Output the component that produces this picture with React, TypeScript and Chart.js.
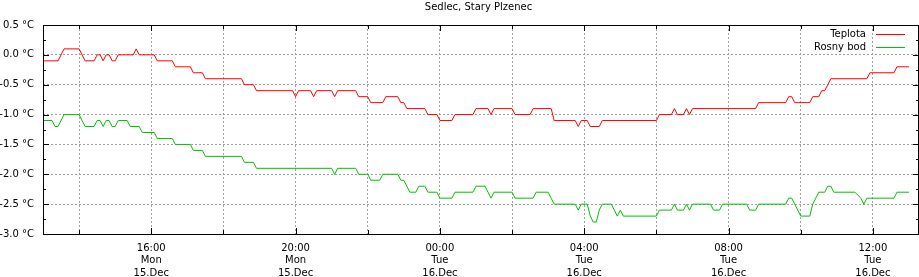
import React, { useEffect, useRef } from "react";
import { Chart, registerables } from "chart.js";

Chart.register(...registerables);

// Time axis: minutes since Mon 15.Dec 13:00
const xMinMinutes = 0;
const xMaxMinutes = 1455;
const gridMinutes = [60, 180, 300, 420, 540, 660, 780, 900, 1020, 1140, 1260, 1380];
const majorTickMinutes = [180, 420, 660, 900, 1140, 1380];
const majorTickLabels = [
  ["16:00", "Mon", "15.Dec"],
  ["20:00", "Mon", "15.Dec"],
  ["00:00", "Tue", "16.Dec"],
  ["04:00", "Tue", "16.Dec"],
  ["08:00", "Tue", "16.Dec"],
  ["12:00", "Tue", "16.Dec"],
];
const yMin = -3.0;
const yMax = 0.5;
const yStep = 0.5;

const seriesNames = ["Teplota", "Rosny bod"];
const seriesColors = ["#ff0000", "#00c000"];

// Teplota (temperature)
const tempTimes = [
  0, 25, 35, 60, 70, 85, 90, 95, 100, 105, 110, 115, 120, 125, 150, 155, 160, 185, 190, 215,
  220, 245, 250, 265, 270, 330, 335, 350, 355, 415, 420, 425, 445, 450, 455, 480, 485, 490, 520, 525,
  540, 545, 565, 570, 590, 595, 600, 605, 635, 640, 655, 660, 680, 685, 715, 720, 740, 745, 750, 780,
  785, 810, 815, 845, 850, 885, 890, 895, 905, 910, 925, 930, 1020, 1025, 1045, 1050, 1055, 1065, 1070, 1075,
  1080, 1185, 1190, 1235, 1240, 1245, 1250, 1275, 1280, 1290, 1295, 1300, 1305, 1310, 1370, 1375, 1415, 1420, 1440,
];
const tempValues = [
  -0.1, -0.1, 0.1, 0.1, -0.1, -0.1, 0.0, 0.0, -0.1, 0.0, 0.0, -0.1, -0.1, 0.0, 0.0, 0.1, 0.0, 0.0, -0.1, -0.1,
  -0.2, -0.2, -0.3, -0.3, -0.4, -0.4, -0.5, -0.5, -0.6, -0.6, -0.7, -0.6, -0.6, -0.7, -0.6, -0.6, -0.7, -0.6, -0.6, -0.7,
  -0.7, -0.8, -0.8, -0.7, -0.7, -0.8, -0.8, -0.9, -0.9, -1.0, -1.0, -1.1, -1.1, -1.0, -1.0, -0.9, -0.9, -1.0, -0.9, -0.9,
  -1.0, -1.0, -0.9, -0.9, -1.1, -1.1, -1.2, -1.1, -1.1, -1.2, -1.2, -1.1, -1.1, -1.0, -1.0, -0.9, -1.0, -1.0, -0.9, -1.0,
  -0.9, -0.9, -0.8, -0.8, -0.7, -0.7, -0.8, -0.8, -0.7, -0.7, -0.6, -0.6, -0.5, -0.4, -0.4, -0.3, -0.3, -0.2, -0.2,
];

// Rosny bod (dew point)
const dewTimes = [
  0, 15, 20, 25, 35, 60, 70, 85, 90, 95, 100, 105, 110, 115, 120, 125, 140, 145, 160, 165,
  185, 190, 215, 220, 245, 250, 265, 270, 330, 335, 350, 355, 480, 485, 490, 520, 525, 540, 545, 560,
  565, 590, 595, 600, 605, 610, 620, 625, 635, 640, 655, 660, 680, 685, 715, 720, 735, 740, 745, 750,
  780, 785, 815, 820, 840, 845, 850, 885, 890, 895, 905, 910, 915, 920, 925, 930, 945, 950, 955, 960,
  965, 1020, 1025, 1045, 1050, 1055, 1065, 1070, 1075, 1080, 1110, 1115, 1125, 1130, 1170, 1175, 1185, 1190, 1235, 1240,
  1245, 1250, 1255, 1260, 1275, 1280, 1285, 1290, 1300, 1305, 1310, 1315, 1350, 1360, 1365, 1370, 1415, 1420, 1440,
];
const dewValues = [
  -1.1, -1.1, -1.2, -1.2, -1.0, -1.0, -1.2, -1.2, -1.1, -1.1, -1.2, -1.1, -1.1, -1.2, -1.2, -1.1, -1.1, -1.2, -1.2, -1.3,
  -1.3, -1.4, -1.4, -1.5, -1.5, -1.6, -1.6, -1.7, -1.7, -1.8, -1.8, -1.9, -1.9, -2.0, -1.9, -1.9, -2.0, -2.0, -2.1, -2.1,
  -2.0, -2.0, -2.1, -2.1, -2.2, -2.3, -2.3, -2.2, -2.2, -2.3, -2.3, -2.4, -2.4, -2.3, -2.3, -2.2, -2.2, -2.3, -2.4, -2.3,
  -2.3, -2.4, -2.4, -2.3, -2.3, -2.4, -2.5, -2.5, -2.6, -2.5, -2.5, -2.7, -2.8, -2.8, -2.6, -2.5, -2.5, -2.6, -2.7, -2.6,
  -2.7, -2.7, -2.6, -2.6, -2.5, -2.6, -2.6, -2.5, -2.6, -2.5, -2.5, -2.6, -2.6, -2.5, -2.5, -2.6, -2.6, -2.5, -2.5, -2.4,
  -2.4, -2.5, -2.6, -2.7, -2.7, -2.5, -2.4, -2.3, -2.3, -2.2, -2.2, -2.3, -2.3, -2.4, -2.5, -2.4, -2.4, -2.3, -2.3,
];

const chartTitle = "Sedlec, Stary Plzenec";
const FONT = '"DejaVu Sans", "Noto Sans", sans-serif';

const overlayPlugin = {
  id: "gnuplotOverlay",
  afterDraw(chart: any) {
    const { ctx, chartArea } = chart;
    const { left, top, right, bottom } = chartArea;
    const xs = chart.scales.x;
    const ys = chart.scales.y;
    ctx.save();
    ctx.setLineDash([]);
    ctx.strokeStyle = "#000";
    ctx.lineWidth = 1;
    // frame
    ctx.strokeRect(left + 0.5, top + 0.5, right - left, bottom - top);
    // x ticks (inward, mirrored)
    ctx.beginPath();
    for (const v of gridMinutes) {
      const px = Math.round(xs.getPixelForValue(v)) + 0.5;
      const len = majorTickMinutes.includes(v) ? 6 : 4;
      ctx.moveTo(px, bottom);
      ctx.lineTo(px, bottom - len);
      ctx.moveTo(px, top);
      ctx.lineTo(px, top + len);
    }
    // y ticks (major every step, minor half step)
    for (let v = yMin; v <= yMax + 1e-9; v += yStep / 2) {
      const py = Math.round(ys.getPixelForValue(v)) + 0.5;
      const isMajor = Math.abs(v / yStep - Math.round(v / yStep)) < 1e-6;
      const len = isMajor ? 6 : 3;
      ctx.moveTo(left, py);
      ctx.lineTo(left + len, py);
      ctx.moveTo(right + 1, py);
      ctx.lineTo(right + 1 - len, py);
    }
    ctx.stroke();

    // title
    ctx.fillStyle = "#000";
    ctx.font = `10px ${FONT}`;
    ctx.textAlign = "center";
    ctx.textBaseline = "middle";
    ctx.fillText(chartTitle, (left + right) / 2 - 2, 7);

    // legend
    ctx.textAlign = "right";
    seriesNames.forEach((name, i) => {
      const y = 34 + i * 13;
      ctx.fillStyle = "#000";
      ctx.fillText(name, 866, y);
      ctx.strokeStyle = seriesColors[i];
      ctx.beginPath();
      ctx.moveTo(876, y + 0.5);
      ctx.lineTo(905, y + 0.5);
      ctx.stroke();
    });
    ctx.restore();
  },
};

export default function App() {
  const canvasRef = useRef<HTMLCanvasElement | null>(null);

  useEffect(() => {
    document.body.style.margin = "0";
    const canvas = canvasRef.current;
    if (!canvas) return;
    const chart = new Chart(canvas, {
      type: "line",
      data: {
        datasets: [
          {
            label: seriesNames[0],
            data: tempTimes.map((t, i) => ({ x: t, y: tempValues[i] })),
            borderColor: seriesColors[0],
            borderWidth: 1,
            pointRadius: 0,
            tension: 0,
            fill: false,
          },
          {
            label: seriesNames[1],
            data: dewTimes.map((t, i) => ({ x: t, y: dewValues[i] })),
            borderColor: seriesColors[1],
            borderWidth: 1,
            pointRadius: 0,
            tension: 0,
            fill: false,
          },
        ],
      },
      options: {
        animation: false,
        responsive: false,
        maintainAspectRatio: false,
        layout: { padding: { top: 25, right: 1, left: 0, bottom: 0 } },
        plugins: {
          legend: { display: false },
          title: { display: false },
          tooltip: { enabled: false },
        },
        scales: {
          x: {
            type: "linear",
            min: xMinMinutes,
            max: xMaxMinutes,
            afterBuildTicks: (scale: any) => {
              scale.ticks = gridMinutes.map((v) => ({ value: v }));
            },
            afterFit: (scale: any) => {
              scale.height = 43;
            },
            ticks: {
              autoSkip: false,
              maxRotation: 0,
              minRotation: 0,
              padding: 8,
              color: "#000",
              font: { family: FONT, size: 10, lineHeight: 1.25 },
              callback: (value: any) => {
                const i = majorTickMinutes.indexOf(Number(value));
                return i >= 0 ? majorTickLabels[i] : "";
              },
            },
            grid: { color: "#a0a0a0", drawTicks: false, lineWidth: 1 },
            border: { display: false, dash: [2, 2] },
          },
          y: {
            type: "linear",
            min: yMin,
            max: yMax,
            afterFit: (scale: any) => {
              scale.width = 43;
            },
            ticks: {
              stepSize: yStep,
              padding: 9,
              color: "#000",
              font: { family: FONT, size: 10 },
              callback: (value: any) => Number(value).toFixed(1) + " °C",
            },
            grid: { color: "#a0a0a0", drawTicks: false, lineWidth: 1 },
            border: { display: false, dash: [2, 2] },
          },
        },
      },
      plugins: [overlayPlugin],
    });
    return () => chart.destroy();
  }, []);

  return (
    <div style={{ width: 919, height: 277 }}>
      <canvas ref={canvasRef} width={919} height={277} style={{ display: "block" }} />
    </div>
  );
}
